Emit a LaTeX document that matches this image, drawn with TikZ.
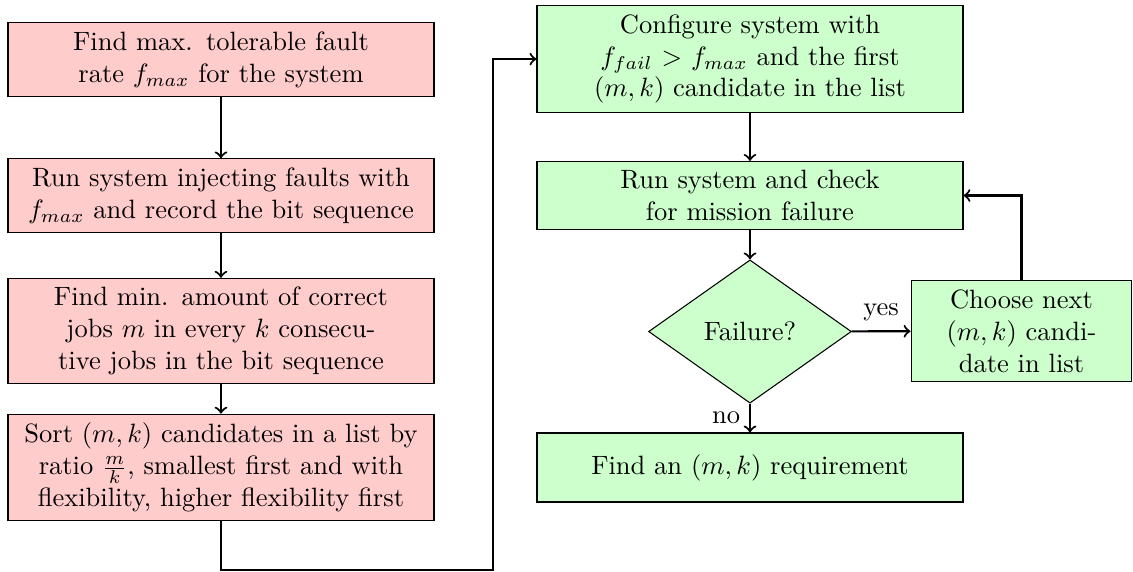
\documentclass[tikz,border=0pt]{standalone}
\usepackage{amsmath}
\usetikzlibrary{shapes.geometric}

\begin{document}
\begin{tikzpicture}[
  redbox/.style={draw,fill=red!20,align=center,text width=5.4cm,minimum width=5.65cm},
  greenbox/.style={draw,fill=green!20,align=center,text width=5.4cm,minimum width=5.65cm},
  flowarrow/.style={->,thick}]
\useasboundingbox (0,0) rectangle (15.027,-7.586);
% left column: preparing the candidate list
\node[redbox] (fmax) at (2.931,-0.789) {Find max. tolerable fault\\rate $f_{max}$ for the system};
\node[redbox] (inject) at (2.931,-2.593) {Run system injecting faults with\\$f_{max}$ and record the bit sequence};
\node[redbox] (minjobs) at (2.931,-4.390) {Find min. amount of correct\\jobs $m$ in every $k$ consecu-\\tive jobs in the bit sequence};
\node[redbox] (sort) at (2.931,-6.200) {Sort $(m,k)$ candidates in a list by\\ratio $\frac{m}{k}$, smallest first and with\\flexibility, higher flexibility first};
% right column: searching the list
\node[greenbox] (config) at (9.947,-0.783) {Configure system with\\$f_{fail}$ $>$ $f_{max}$ and the first\\$(m,k)$ candidate in the list};
\node[greenbox] (check) at (9.947,-2.593) {Run system and check\\for mission failure};
\node[draw,fill=green!20,diamond,aspect=1.42,inner sep=1pt,minimum width=2.69cm,minimum height=1.9cm] (fail) at (9.947,-4.397) {Failure?};
\node[draw,fill=green!20,align=center,text width=2.2cm,minimum width=2.93cm] (next) at (13.548,-4.390) {Choose next\\$(m,k)$ candi-\\date in list};
\node[greenbox,minimum height=0.915cm] (found) at (9.947,-6.200) {Find an $(m,k)$ requirement};
\coordinate (loopbot) at (6.539,-7.560);

\draw[flowarrow] (fmax) -- (inject);
\draw[flowarrow] (inject) -- (minjobs);
\draw[flowarrow] (minjobs) -- (sort);
\draw[flowarrow] (sort.south) |- (loopbot) |- (config.west);
\draw[flowarrow] (config) -- (check);
\draw[flowarrow] (check) -- (fail);
\draw[flowarrow] (fail) -- node[above] {yes} (next);
\draw[flowarrow] (fail) -- node[left] {no} (found);
\draw[flowarrow] (next.north) |- (check.east);
\end{tikzpicture}
\end{document}
